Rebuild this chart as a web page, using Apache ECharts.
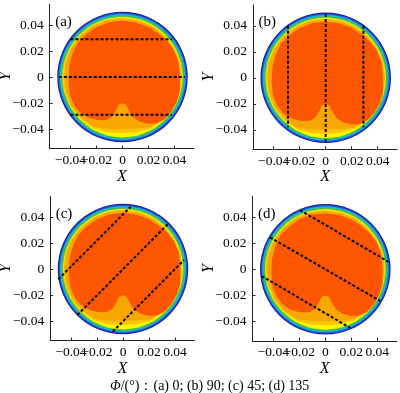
<!DOCTYPE html>
<html><head><meta charset="utf-8">
<script src="https://cdn.jsdelivr.net/npm/echarts@6/dist/echarts.min.js"></script>
<style>html,body{margin:0;padding:0;background:#fff}#c{width:400px;height:393px}</style>
</head><body><div id="c"></div>
<script>
// ---- data ----
const tickValues = [-0.04, -0.02, 0, 0.02, 0.04];
const xLabelsMain = [-0.04, 0, 0.04];     // labelled on the primary x axis
const xLabelsAlt = [-0.02, 0.02];         // labelled on an overlaid twin x axis
const xRange = [-0.056, 0.055];
const yRange = [-0.055, 0.056];
const panelLabels = ['(a)', '(b)', '(c)', '(d)'];
const captionText = '{i|Φ}/(°)：(a) 0; (b) 90; (c) 45; (d) 135';

// circular outer bands (navy, blue, cyan, green, yellow-green)
const ringRadii = [0.0502, 0.0494, 0.0485, 0.0475, 0.0464];

// contour boundaries in polar form (angle in degrees, radius)
const contourAngles = [0, 15, 30, 45, 60, 75, 90, 105, 120, 135, 150, 165, 180, 195, 210, 225, 240, 255, 270, 285, 300, 315, 330, 345];
const yellowRadii = [0.0461, 0.0461, 0.0461, 0.0461, 0.0461, 0.0461, 0.0461, 0.0461, 0.0461, 0.0461, 0.0461, 0.0461, 0.0461, 0.0461, 0.0461, 0.0461, 0.0463, 0.0465, 0.0465, 0.0465, 0.0463, 0.0461, 0.0461, 0.0461];
const lightOrangeRadii = [0.0458, 0.0458, 0.0457, 0.0456, 0.0457, 0.0457, 0.0457, 0.0457, 0.0458, 0.0458, 0.0459, 0.0460, 0.0460, 0.0460, 0.0459, 0.0457, 0.0452, 0.0440, 0.0433, 0.0438, 0.0452, 0.0456, 0.0458, 0.0458];
const orangeRadii = [0.0454, 0.0454, 0.0452, 0.0450, 0.0448, 0.0446, 0.0450, 0.0452, 0.0452, 0.0451, 0.0452, 0.0450, 0.0448, 0.0448, 0.0450, 0.0447, 0.0443, 0.0414, 0.0398, 0.0410, 0.0444, 0.0448, 0.0452, 0.0454];

// inner (highest level) region outline
const coreX = [0.0440, 0.0440, 0.0430, 0.0395, 0.0345, 0.0276, 0.0197, 0.0099, 0, -0.0099, -0.0197, -0.0276, -0.0345, -0.0385, -0.0410, -0.0415, -0.0405, -0.0375, -0.0335, -0.0266, -0.0197, -0.0128, -0.008, -0.005, -0.003, 0, 0.003, 0.005, 0.008, 0.0128, 0.0197, 0.0266, 0.0325, 0.0375, 0.0415];
const coreY = [-0.0118, 0, 0.0118, 0.0207, 0.0276, 0.0335, 0.0385, 0.0419, 0.0432, 0.0422, 0.0385, 0.0330, 0.0261, 0.0177, 0.0079, -0.0039, -0.0138, -0.0207, -0.0266, -0.0311, -0.0330, -0.0333, -0.0306, -0.0258, -0.0215, -0.0200, -0.0215, -0.0258, -0.0306, -0.0340, -0.0360, -0.0355, -0.0325, -0.0266, -0.0197];

// dashed section lines (endpoints) per panel
const linesA = [[[-0.040, 0.029], [0.038, 0.029]], [[-0.049, 0], [0.048, 0]], [[-0.040, -0.029], [0.038, -0.029]]];
const linesB = [[[-0.029, 0.040], [-0.029, -0.038]], [[0, 0.049], [0, -0.049]], [[0.029, 0.040], [0.029, -0.038]]];
const linesC = [[[-0.0498, -0.0079], [0.0059, 0.0479]], [[-0.0351, -0.0354], [0.0344, 0.0344]], [[-0.0079, -0.0482], [0.0469, 0.0069]]];
const linesD = [[[-0.0195, 0.0456], [0.0485, 0.0058]], [[-0.0425, 0.0246], [0.0421, -0.0242]], [[-0.0489, -0.0052], [0.0198, -0.0454]]];
const panelLines = [linesA, linesB, linesC, linesD];

// ---- styling / layout ----
const ringColors = ['#1b1f8f', '#1f55dc', '#17b3de', '#44bf4a', '#b6de2a'];
const yellowColor = '#fbf600', lightOrangeColor = '#fdc500', orangeColor = '#f8a600', coreColor = '#fd5600';
const gridPos = [
  {left: 49.7, top: 4.2},
  {left: 252.9, top: 5.0},
  {left: 50.2, top: 196.2},
  {left: 252.5, top: 196.5}
];
const GW = 144.3, GH = 144.3;
const serif = 'Liberation Serif';

function polarPts(radii) {
  return contourAngles.map((a, i) => [radii[i] * Math.cos(a * Math.PI / 180), radii[i] * Math.sin(a * Math.PI / 180)]);
}
const polyLayers = [
  {pts: polarPts(yellowRadii), color: yellowColor},
  {pts: polarPts(lightOrangeRadii), color: lightOrangeColor},
  {pts: polarPts(orangeRadii), color: orangeColor},
  {pts: coreX.map((x, i) => [x, coreY[i]]), color: coreColor}
];

function fmt(v) {
  if (Math.abs(v) < 1e-9) return '0';
  return (v < 0 ? '\u2212' : '') + Math.abs(v).toFixed(2);
}

const labelStyle = {color: '#000', fontFamily: serif, fontSize: 13.5, hideOverlap: false, showMinLabel: true, showMaxLabel: true};
const grids = [], xAxes = [], yAxes = [], series = [], graphics = [];
gridPos.forEach((g, i) => {
  grids.push({left: g.left, top: g.top, width: GW, height: GH, containLabel: false, outerBoundsMode: 'none'});
  xAxes.push({
    gridIndex: i, type: 'value', min: xRange[0], max: xRange[1], position: 'bottom',
    axisLine: {show: true, onZero: false, lineStyle: {color: '#222', width: 1}},
    axisTick: {show: true, inside: true, length: 3, customValues: tickValues, lineStyle: {color: '#222'}},
    axisLabel: Object.assign({customValues: xLabelsMain, formatter: fmt, margin: 5}, labelStyle),
    splitLine: {show: false},
    name: 'X', nameLocation: 'middle', nameGap: 19,
    nameTextStyle: {fontFamily: serif, fontStyle: 'italic', fontSize: 16, color: '#000'}
  });
  yAxes.push({
    gridIndex: i, type: 'value', min: yRange[0], max: yRange[1],
    axisLine: {show: true, onZero: false, lineStyle: {color: '#222', width: 1}},
    axisTick: {show: true, inside: true, length: 3, customValues: tickValues, lineStyle: {color: '#222'}},
    axisLabel: Object.assign({customValues: tickValues, formatter: fmt, margin: 6}, labelStyle),
    splitLine: {show: false},
    name: 'Y', nameLocation: 'middle', nameGap: 36, nameRotate: 90, nameMoveOverlap: false,
    nameTextStyle: {fontFamily: serif, fontStyle: 'italic', fontSize: 16, color: '#000'}
  });
  series.push({
    type: 'custom', xAxisIndex: i, yAxisIndex: i, silent: true, clip: false,
    data: [[0, 0]],
    renderItem: function (params, api) {
      const c = api.coord([0, 0]);
      const children = [];
      ringRadii.forEach((r, k) => {
        const rpx = api.size([r, 0])[0];
        children.push({type: 'circle', shape: {cx: c[0], cy: c[1], r: rpx}, style: {fill: ringColors[k]}});
      });
      polyLayers.forEach(L => {
        children.push({type: 'polygon', shape: {points: L.pts.map(p => api.coord(p))}, style: {fill: L.color}});
      });
      return {type: 'group', children: children};
    },
    z: 1
  });
  panelLines[i].forEach(seg => {
    series.push({
      type: 'line', xAxisIndex: i, yAxisIndex: i, data: seg, symbol: 'none', silent: true,
      lineStyle: {color: '#000', width: 2, type: [3, 2]}, z: 5
    });
  });
  graphics.push({
    type: 'text', left: g.left + 5.5, top: g.top + 10,
    style: {text: panelLabels[i], font: '15px "Liberation Serif"', fill: '#000'}
  });
});
// twin x axes carrying the in-between labels (same scale, same position)
gridPos.forEach((g, i) => {
  xAxes.push({
    gridIndex: i, type: 'value', min: xRange[0], max: xRange[1], position: 'bottom', offset: 0,
    axisLine: {show: false, onZero: false}, axisTick: {show: false},
    axisLabel: Object.assign({customValues: xLabelsAlt, formatter: fmt, margin: 5}, labelStyle),
    splitLine: {show: false}
  });
});

const chart = echarts.init(document.getElementById('c'), null, {renderer: 'canvas'});
chart.setOption({
  animation: false,
  backgroundColor: '#fff',
  title: {
    text: captionText, left: 105, top: 374,
    textStyle: {fontFamily: serif, fontSize: 14, fontWeight: 'normal', color: '#000',
      rich: {i: {fontFamily: serif, fontStyle: 'italic', fontSize: 14, color: '#000'}}}
  },
  grid: grids, xAxis: xAxes, yAxis: yAxes, series: series, graphic: graphics
});
</script></body></html>
